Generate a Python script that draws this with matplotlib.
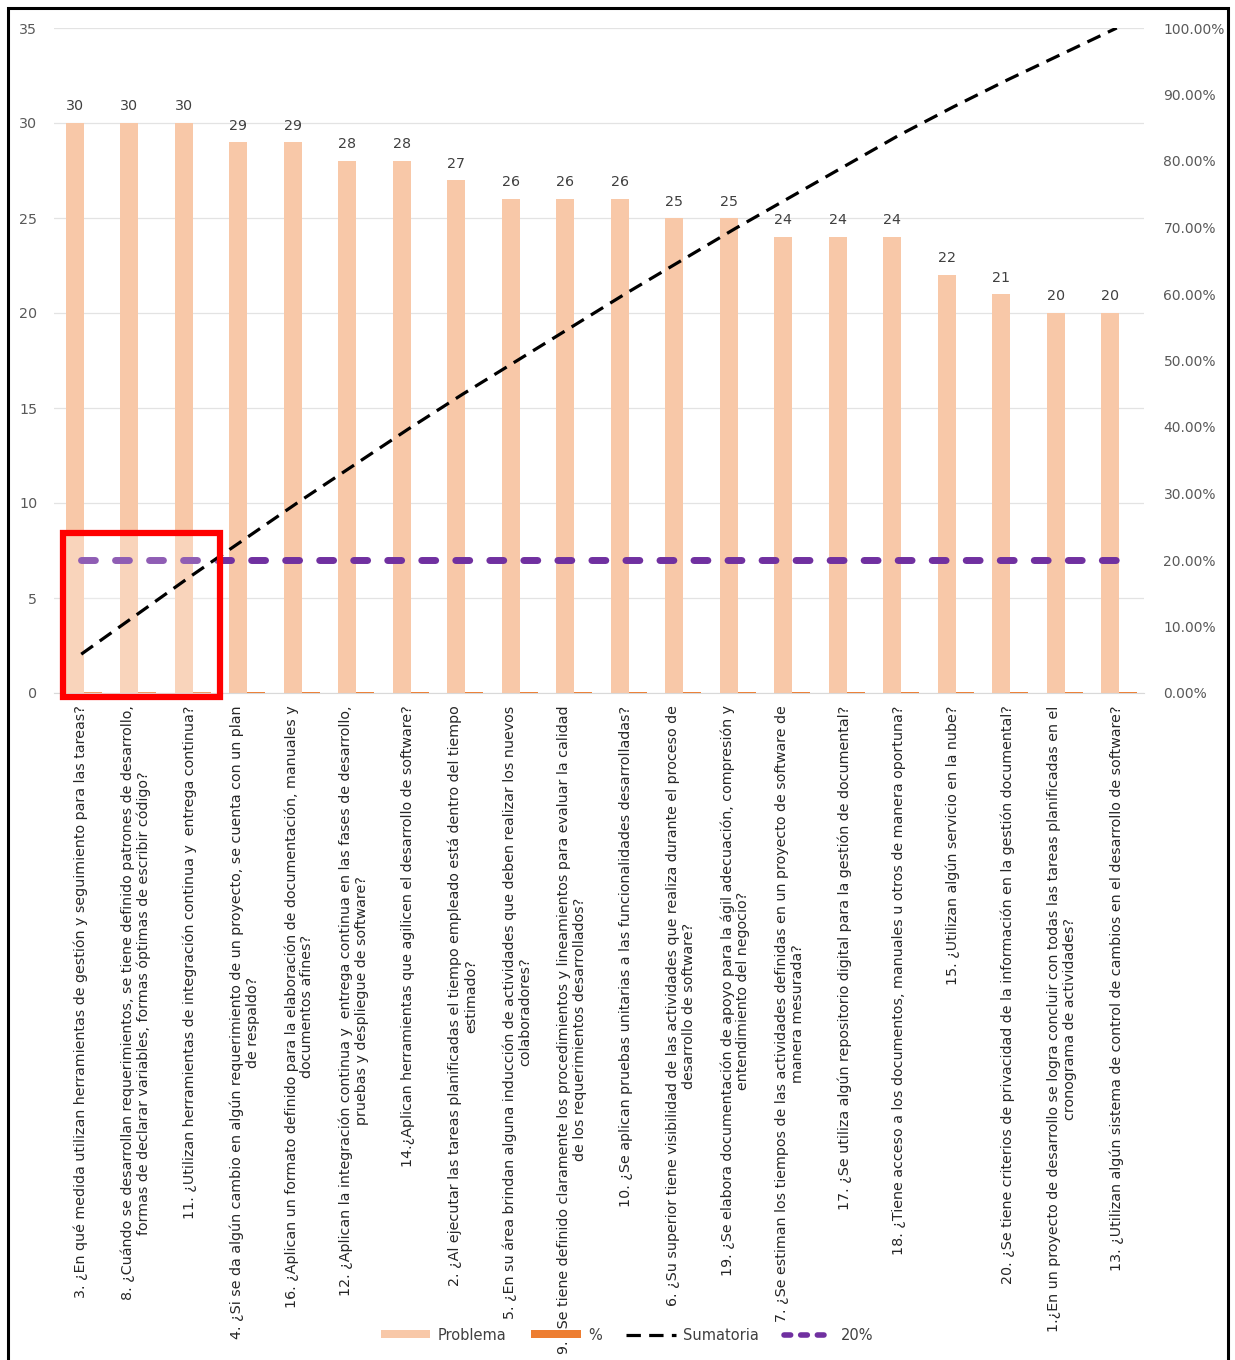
import numpy as np
import matplotlib
matplotlib.use("Agg")
import matplotlib.pyplot as plt
from matplotlib.patches import Rectangle, Patch
from matplotlib.lines import Line2D
from matplotlib.ticker import FuncFormatter, MultipleLocator

plt.rcParams['font.family'] = ['DejaVu Sans']

# ---- data ----
preguntas = [
    "3. ¿En qué medida utilizan herramientas de gestión y seguimiento para las tareas?",
    "8. ¿Cuándo se desarrollan requerimientos, se tiene definido patrones de desarrollo,\nformas de declarar variables, formas óptimas de escribir código?",
    "11. ¿Utilizan herramientas de integración continua y  entrega continua?",
    "4. ¿Si se da algún cambio en algún requerimiento de un proyecto, se cuenta con un plan\nde respaldo?",
    "16. ¿Aplican un formato definido para la elaboración de documentación, manuales y\ndocumentos afines?",
    "12. ¿Aplican la integración continua y  entrega continua en las fases de desarrollo,\npruebas y despliegue de software?",
    "14.¿Aplican herramientas que agilicen el desarrollo de software?",
    "2. ¿Al ejecutar las tareas planificadas el tiempo empleado está dentro del tiempo\nestimado?",
    "5. ¿En su área brindan alguna inducción de actividades que deben realizar los nuevos\ncolaboradores?",
    "9. ¿Se tiene definido claramente los procedimientos y lineamientos para evaluar la calidad\nde los requerimientos desarrollados?",
    "10. ¿Se aplican pruebas unitarias a las funcionalidades desarrolladas?",
    "6. ¿Su superior tiene visibilidad de las actividades que realiza durante el proceso de\ndesarrollo de software?",
    "19. ¿Se elabora documentación de apoyo para la ágil adecuación, compresión y\nentendimiento del negocio?",
    "7. ¿Se estiman los tiempos de las actividades definidas en un proyecto de software de\nmanera mesurada?",
    "17. ¿Se utiliza algún repositorio digital para la gestión de documental?",
    "18. ¿Tiene acceso a los documentos, manuales u otros de manera oportuna?",
    "15. ¿Utilizan algún servicio en la nube?",
    "20. ¿Se tiene criterios de privacidad de la información en la gestión documental?",
    "1.¿En un proyecto de desarrollo se logra concluir con todas las tareas planificadas en el\ncronograma de actividades?",
    "13. ¿Utilizan algún sistema de control de cambios en el desarrollo de software?",
]
problema = [30, 30, 30, 29, 29, 28, 28, 27, 26, 26, 26, 25, 25, 24, 24, 24, 22, 21, 20, 20]
umbral = 0.20

total = sum(problema)
porcentaje = [v / total for v in problema]
sumatoria = list(np.cumsum(problema) / total)

# ---- figure ----
W, H = 1235, 1360
fig = plt.figure(figsize=(W / 100, H / 100), dpi=100)
ax = fig.add_axes([54 / W, 1 - 693 / H, (1144 - 54) / W, (693 - 28) / H])

x = np.arange(len(problema))
bw = 0.33
off = 0.12
c_prob = '#F8C8A8'
c_pct = '#ED7D31'
c_text = '#404040'

ax.bar(x - off, problema, bw, color=c_prob, zorder=2)
ax.bar(x - off + bw, porcentaje, bw, color=c_pct, zorder=2)
for xi, v in zip(x, problema):
    ax.text(xi - off, v + 0.5, str(v), ha='center', va='bottom',
            fontsize=10.3, color=c_text)

ax.set_xlim(-0.5, len(problema) - 0.5)
ax.set_ylim(0, 35)
ax.yaxis.set_major_locator(MultipleLocator(5))
ax.grid(axis='y', color='#E3E3E3', lw=0.9, zorder=0)
ax.set_axisbelow(True)
for s in ['top', 'right', 'left']:
    ax.spines[s].set_visible(False)
ax.spines['bottom'].set_color('#D9D9D9')
ax.tick_params(axis='y', length=0, pad=12, labelsize=10.3, labelcolor='#595959')
ax.set_xticks(x)
ax.set_xticklabels(preguntas, rotation=90, ha='center', va='top',
                   multialignment='center', fontsize=10.25, color='#262626',
                   linespacing=1.15)
ax.tick_params(axis='x', length=0, pad=9)

ax2 = ax.twinx()
ax2.set_ylim(0, 1)
ax2.yaxis.set_major_locator(MultipleLocator(0.1))
ax2.yaxis.set_major_formatter(FuncFormatter(lambda v, p: f"{v * 100:.2f}%"))
ax2.tick_params(axis='y', length=0, pad=14, labelsize=10, labelcolor='#595959')
for s in ax2.spines.values():
    s.set_visible(False)

ax2.plot(x, [umbral] * len(x), color='#7030A0', lw=5, dashes=(2.0, 2.9),
         dash_capstyle='round', zorder=3)
# highlight frame around the first three questions
box_y1 = umbral * 1.2
ax2.add_patch(Rectangle((-0.33, -0.006), 2.88, box_y1 + 0.006, facecolor='white',
                        alpha=0.22, edgecolor='none', zorder=4, clip_on=False))
ax2.add_patch(Rectangle((-0.33, -0.006), 2.88, box_y1 + 0.006, facecolor='none',
                        edgecolor='#FF0000', lw=4.5, zorder=6, clip_on=False))
ax2.plot(x, sumatoria, color='black', lw=2.3, dashes=(4.5, 2.6), zorder=5)

# legend
handles = [
    Patch(facecolor=c_prob, edgecolor='none', label='Problema'),
    Patch(facecolor=c_pct, edgecolor='none', label='%'),
    Line2D([], [], color='black', lw=2.3, dashes=(4.5, 2.6), label='Sumatoria'),
    Line2D([], [], color='#7030A0', lw=4, dashes=(1.2, 1.8),
           dash_capstyle='round', label='20%'),
]
fig.legend(handles=handles, loc='center', bbox_to_anchor=(627 / W, 1 - 1335 / H),
           ncol=4, frameon=False, fontsize=10.5, handlelength=3.4, handleheight=0.45,
           columnspacing=1.7, handletextpad=0.5, labelcolor=c_text)

# outer frame
fig.patches.append(Rectangle((8 / W, -0.02), (1228 - 8) / W, 1 - 8 / H + 0.02,
                             transform=fig.transFigure, facecolor='none',
                             edgecolor='black', lw=2.2, zorder=10))

fig.savefig('out.png', dpi=100)
